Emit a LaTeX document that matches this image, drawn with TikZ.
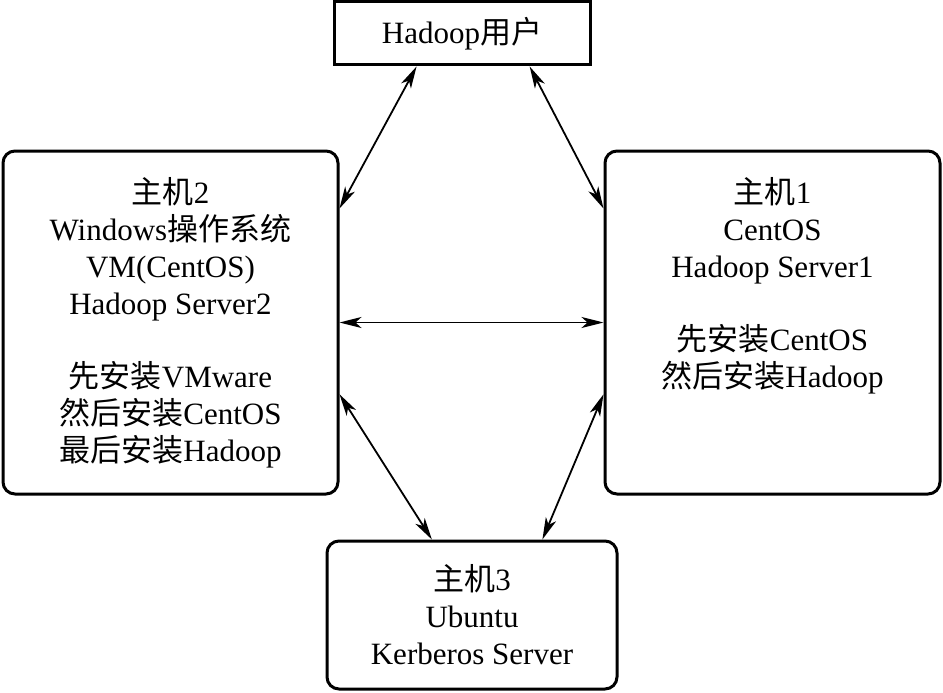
\documentclass[tikz,border=0pt]{standalone}
\usepackage{fontspec}
\setmainfont{Liberation Serif}
\newfontfamily\cjk{Noto Sans CJK SC}
\newcommand{\zh}[1]{{\cjk #1}}
\usetikzlibrary{arrows.meta}

\tikzset{
  box/.style={draw,line width=3pt,align=center,inner sep=0pt,font=\fontsize{31}{37}\selectfont},
  hostbox/.style={box,rounded corners=12pt},
  hosttext/.style={align=center,inner sep=0pt,font=\fontsize{31}{37}\selectfont},
  link/.style={line width=1.8pt,{Stealth[length=22pt,width=11pt,inset=6pt]}-{Stealth[length=22pt,width=11pt,inset=6pt]}},
}

\begin{document}
\begin{tikzpicture}[x=1pt,y=-1pt]
\useasboundingbox (0,0) rectangle (943,693);
% the user and the three hosts
\node[box,minimum width=256pt,minimum height=63pt] (user) at (462,33.5) {Hadoop\zh{用户}};
\node[hostbox,minimum width=335pt,minimum height=343pt] (host2) at (170.5,322.5)
  {\zh{主机}2\\Windows\zh{操作系统}\\VM(CentOS)\\Hadoop Server2\\[36pt]\zh{先安装}VMware\\\zh{然后安装}CentOS\\\zh{最后安装}Hadoop};
\node[hostbox,minimum width=335pt,minimum height=343pt] (host1) at (772.5,322.5) {};
\node[hosttext] (host1txt) at ([yshift=37pt]host1.center)
  {\zh{主机}1\\CentOS\\Hadoop Server1\\[36pt]\zh{先安装}CentOS\\\zh{然后安装}Hadoop};
\node[hostbox,minimum width=290pt,minimum height=148pt] (host3) at (472,615)
  {\zh{主机}3\\Ubuntu\\Kerberos Server};
% links
\draw[link] (user.216) -- (host2.34);
\draw[link] (user.-26) -- (host1.146);
\draw[link] (host2.east) -- (host1.west);
\draw[link] (host2.-23) -- (host3.118);
\draw[link] (host1.203) -- (host3.47);
\end{tikzpicture}
\end{document}
